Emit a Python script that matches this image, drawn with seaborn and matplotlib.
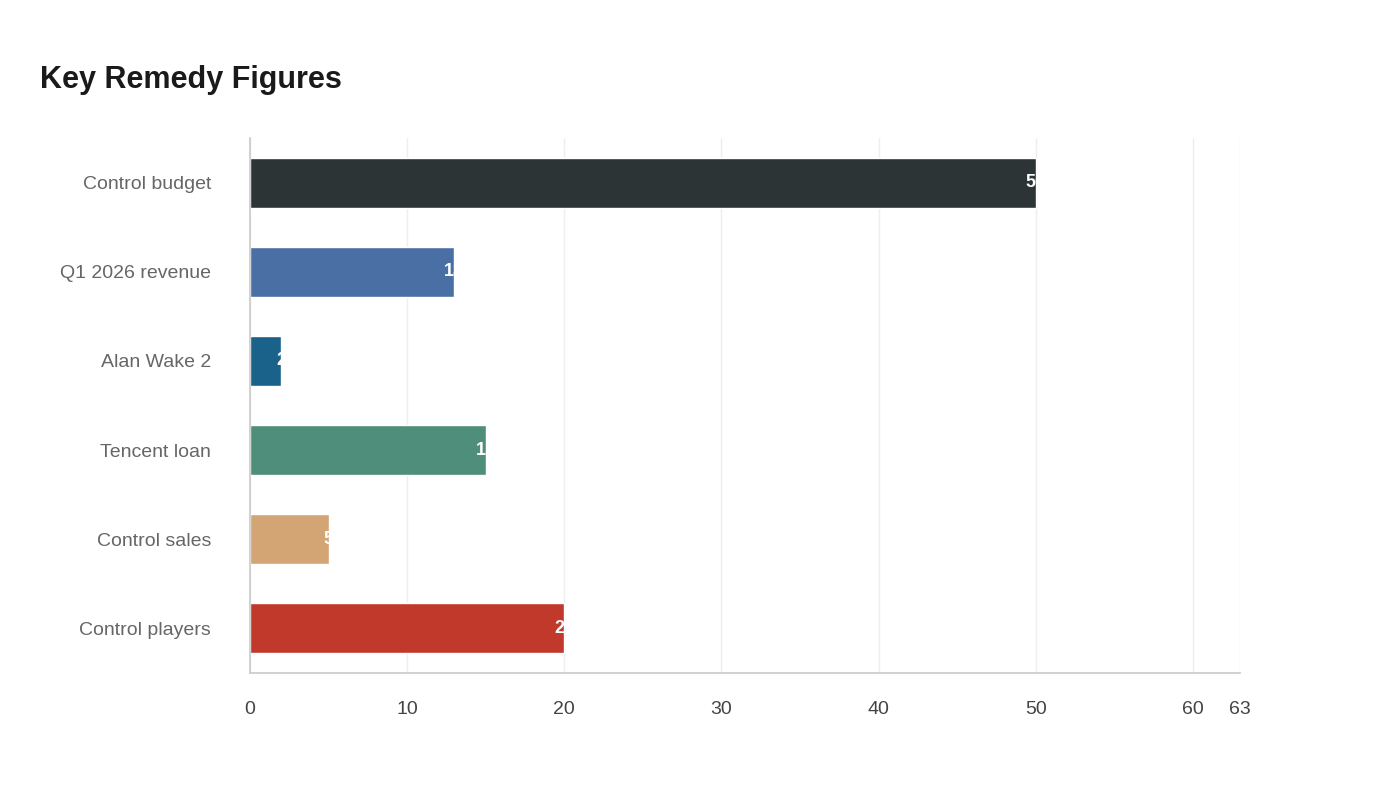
import matplotlib
matplotlib.use("Agg")
import matplotlib.pyplot as plt
import seaborn as sns
import pandas as pd

categories = ["Control budget", "Q1 2026 revenue", "Alan Wake 2",
              "Tencent loan", "Control sales", "Control players"]
values = [50, 13, 2, 15, 5, 20]
colors = ["#2d3436", "#4a6fa5", "#1a6289", "#4e8e7a", "#d4a574", "#c0392b"]
ticks = [0, 10, 20, 30, 40, 50, 60, 63]

df = pd.DataFrame({"cat": categories, "val": values})

sns.set_theme(style="white")
plt.rcParams["font.family"] = ["Liberation Sans", "DejaVu Sans"]

fig = plt.figure(figsize=(14, 8), dpi=100)
ax = fig.add_axes([250 / 1400, 1 - 673 / 800, 990 / 1400, 535 / 800])

sns.barplot(data=df, x="val", y="cat", hue="cat", palette=colors,
            legend=False, width=0.56, ax=ax, saturation=1)

for i, v in enumerate(values):
    ax.text(v, i, str(v), color="white", fontsize=13, fontweight="bold",
            ha="center", va="center")

ax.set_xlim(0, 63)
ax.set_xticks(ticks)
ax.set_xticklabels([str(t) for t in ticks], fontsize=14, color="#444444")
ax.tick_params(axis="y", labelsize=14, labelcolor="#666666", length=0, pad=28)
ax.tick_params(axis="x", length=6, color="#cccccc", pad=14)
ax.set_xlabel("")
ax.set_ylabel("")
ax.grid(axis="x", color="#eeeeee", linewidth=1)
ax.set_axisbelow(True)
for s in ["top", "right"]:
    ax.spines[s].set_visible(False)
for s in ["left", "bottom"]:
    ax.spines[s].set_color("#cccccc")

fig.text(40 / 1400, 1 - 80 / 800, "Key Remedy Figures", fontsize=22,
         fontweight="bold", color="#1a1a1a", va="center")

fig.savefig("out.png", dpi=100)
